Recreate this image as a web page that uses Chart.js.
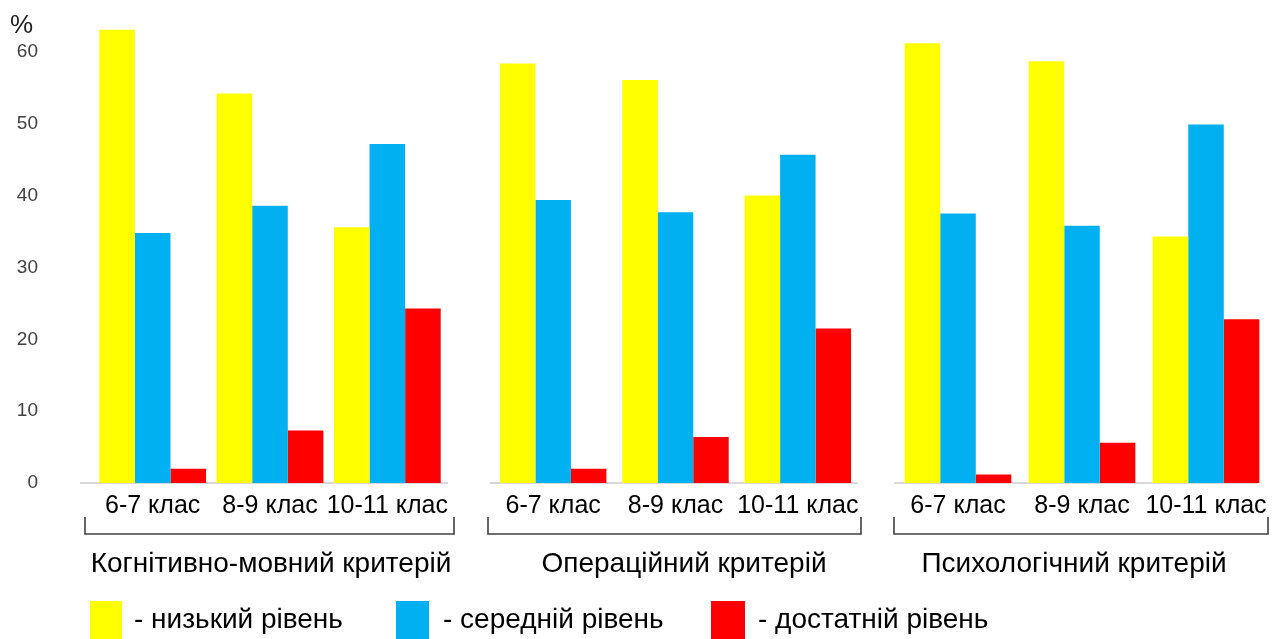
<!DOCTYPE html>
<html><head><meta charset="utf-8">
<script src="https://cdn.jsdelivr.net/npm/chart.js@4.4.1/dist/chart.umd.min.js"></script>
<style>
html,body{margin:0;padding:0;background:#fff;overflow:hidden;width:1275px;height:639px}
canvas{position:absolute;left:0;top:0}
</style></head><body>
<canvas id="c0" width="1275" height="639"></canvas>
<canvas id="c1" width="1275" height="639"></canvas>
<canvas id="c2" width="1275" height="639"></canvas>
<script>
// ---- data ----
const classLabels = ['6-7 клас', '8-9 клас', '10-11 клас'];
const criteriaLabels = ['Когнітивно-мовний критерій', 'Операційний критерій', 'Психологічний критерій'];
const levelLabels = ['- низький рівень', '- середній рівень', '- достатній рівень'];
// values per criterion group, in order of classLabels (3 per criterion)
const lowValues        = [63.1, 54.2, 35.6,   58.4, 56.1, 40.0,   61.2, 58.7, 34.3];
const mediumValues     = [34.8, 38.6, 47.2,   39.4, 37.7, 45.7,   37.5, 35.8, 49.9];
const sufficientValues = [2.0,  7.3,  24.3,   2.0,  6.4,  21.5,   1.2,  5.6,  22.8];
const yTickValues = [0, 10, 20, 30, 40, 50, 60];
const yAxisMax = 65;
const yUnit = '%';

// ---- styling / layout ----
const levelColors = ['#FFFF00', '#00B0F0', '#FF0000'];
const FONT = '"Liberation Sans", Arial, sans-serif';
Chart.defaults.font.family = FONT;
const W = 1275, H = 639;
const AREA_TOP = 16, AREA_BOTTOM = 483;
const panels = [
  { left: 94,  right: 446,  catPct: 0.91, base: [80, 448],   bracket: [85, 454],   titleX: 271 },
  { left: 492, right: 859,  catPct: 0.87, base: [490, 858],  bracket: [488, 861],  titleX: 684 },
  { left: 896, right: 1268, catPct: 0.86, base: [894, 1258], bracket: [894, 1268], titleX: 1074 }
];
const legendLayout = [
  { box: [90, 601, 32, 40],  textX: 134 },
  { box: [396, 601, 33, 40], textX: 443 },
  { box: [711, 601, 34, 40], textX: 758 }
];

const decorPlugin = {
  id: 'decor',
  beforeDatasetsDraw(chart, args, opts) {
    const ctx = chart.ctx, p = opts.panel;
    ctx.save();
    ctx.strokeStyle = '#d9d9d9';
    ctx.lineWidth = 2;
    ctx.beginPath();
    ctx.moveTo(p.base[0], AREA_BOTTOM);
    ctx.lineTo(p.base[1], AREA_BOTTOM);
    ctx.stroke();
    ctx.restore();
  },
  afterDraw(chart, args, opts) {
    const ctx = chart.ctx, p = opts.panel, xs = chart.scales.x, ys = chart.scales.y;
    ctx.save();
    // class labels under bars
    ctx.fillStyle = '#000';
    ctx.font = '25px ' + FONT;
    ctx.textAlign = 'center';
    ctx.textBaseline = 'alphabetic';
    chart.data.labels.forEach((lab, i) => {
      ctx.fillText(lab, xs.getPixelForValue(i), 513);
    });
    // bracket
    ctx.strokeStyle = '#404040';
    ctx.lineWidth = 1.6;
    ctx.beginPath();
    ctx.moveTo(p.bracket[0], 517);
    ctx.lineTo(p.bracket[0], 534);
    ctx.lineTo(p.bracket[1], 534);
    ctx.lineTo(p.bracket[1], 517);
    ctx.stroke();
    // criterion title
    ctx.font = '28px ' + FONT;
    ctx.fillText(opts.title, p.titleX, 572);
    // y ticks, unit + legend only on first panel
    if (opts.first) {
      ctx.fillStyle = '#404040';
      ctx.font = '19px ' + FONT;
      ctx.textAlign = 'right';
      ctx.textBaseline = 'middle';
      yTickValues.forEach(v => ctx.fillText(String(v), 38, ys.getPixelForValue(v)));
      ctx.textBaseline = 'alphabetic';
      ctx.textAlign = 'left';
      ctx.fillStyle = '#1f1f1f';
      ctx.font = '26px ' + FONT;
      ctx.fillText(yUnit, 10, 33);
      chart.data.datasets.forEach((ds, i) => {
        const L = legendLayout[i];
        ctx.fillStyle = ds.backgroundColor;
        ctx.fillRect(L.box[0], L.box[1], L.box[2], L.box[3]);
        ctx.fillStyle = '#000';
        ctx.font = '28px ' + FONT;
        ctx.fillText(ds.label, L.textX, 628);
      });
    }
    ctx.restore();
  }
};

panels.forEach((p, k) => {
  const first = k === 0;
  const sl = arr => arr.slice(k * 3, k * 3 + 3);
  const series = [lowValues, mediumValues, sufficientValues];
  new Chart(document.getElementById('c' + k), {
    type: 'bar',
    data: {
      labels: classLabels,
      datasets: series.map((vals, i) => ({
        label: levelLabels[i],
        data: sl(vals),
        backgroundColor: levelColors[i],
        borderWidth: 0,
        categoryPercentage: p.catPct,
        barPercentage: 1.0
      }))
    },
    options: {
      responsive: false,
      animation: false,
      devicePixelRatio: 1,
      layout: { padding: { left: p.left, right: W - p.right, top: AREA_TOP, bottom: H - AREA_BOTTOM } },
      plugins: {
        legend: { display: false },
        tooltip: { enabled: false },
        decor: { panel: p, title: criteriaLabels[k], first: first }
      },
      scales: {
        x: { type: 'category', display: false, offset: true },
        y: { display: false, min: 0, max: yAxisMax, ticks: { stepSize: 10 } }
      }
    },
    plugins: [decorPlugin]
  });
});
</script>
</body></html>
